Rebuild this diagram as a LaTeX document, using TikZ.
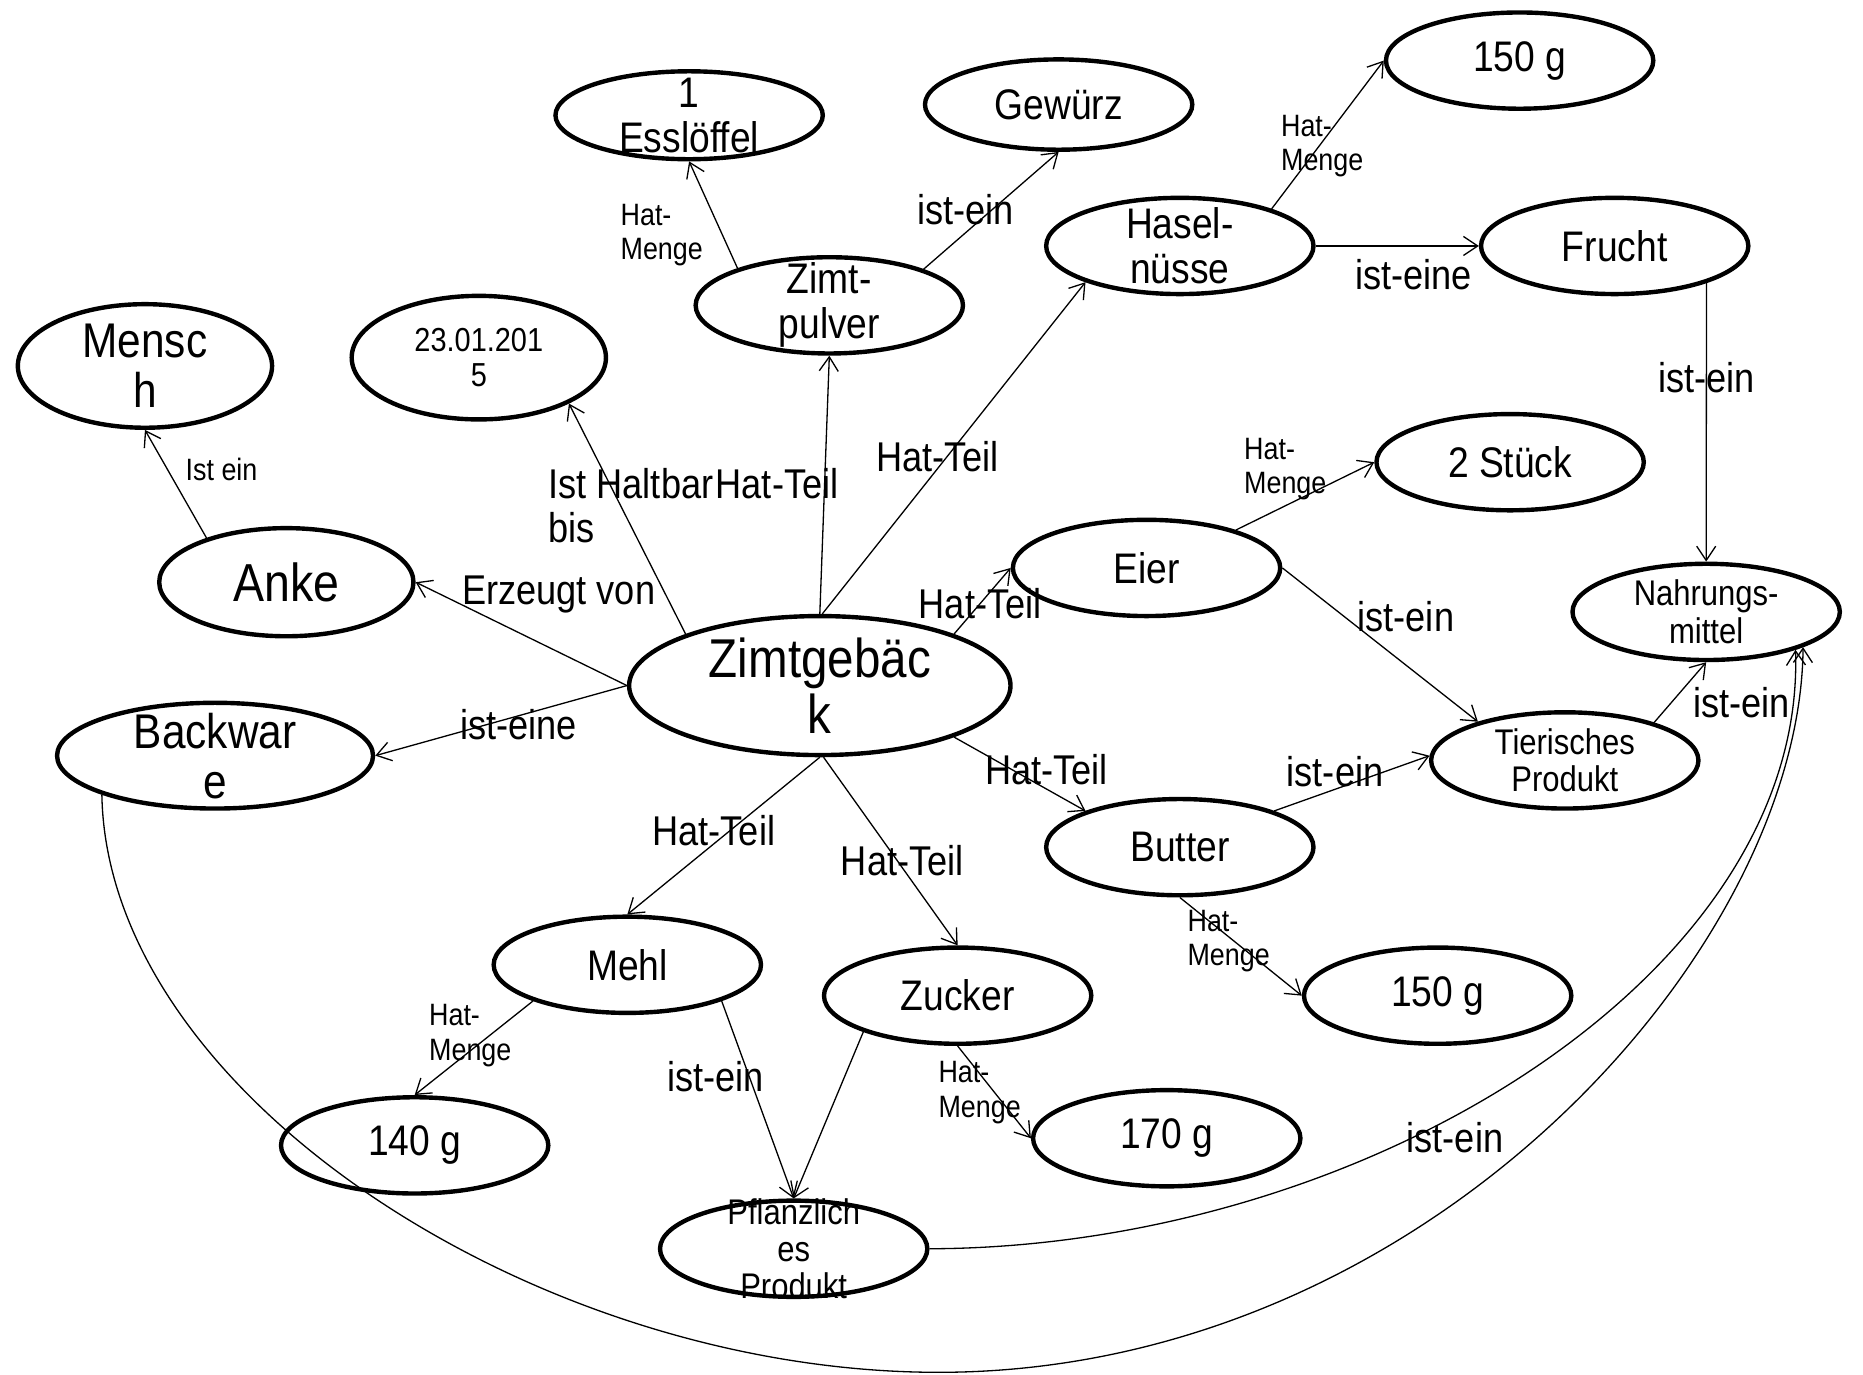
\documentclass[tikz,border=0pt]{standalone}
\usepackage{fontspec}
\setmainfont{Liberation Sans}[FakeStretch=0.87]
\usetikzlibrary{arrows.meta,shapes.geometric}

\begin{document}
\begin{tikzpicture}[x=1pt,y=-1pt,
    begriff/.style={ellipse, draw, line width=3.7pt, align=center, inner xsep=0pt, inner ysep=-20pt,
      minimum width=225pt, minimum height=81pt, font=\fontsize{36}{38}\selectfont},
    begriffklein/.style={begriff, font=\fontsize{30}{31.5}\selectfont},
    lbl/.style={inner sep=0pt, font=\fontsize{35}{37}\selectfont, align=left},
    lblklein/.style={inner sep=0pt, font=\fontsize{26}{29}\selectfont, align=left},
    pfeil/.style={line width=1.1pt, -{Straight Barb[length=12pt,width=16pt]}}]
   \useasboundingbox (0,0) rectangle (1568,1157);

   \node[begriff, minimum height=74pt] (essl) at (580,97) {1\\Esslöffel};
   \node[begriff, minimum height=76pt] (gewuerz) at (891,88) {Gewürz};
   \node[begriff] (g150a) at (1279,51) {150 g};
   \node[begriff] (hasel) at (993,207) {Hasel-\\nüsse};
   \node[begriff] (frucht) at (1359,207) {Frucht};
   \node[begriff] (zimtp) at (698,257) {Zimt-\\pulver};
   \node[begriff, minimum width=214pt, minimum height=104pt, font=\fontsize{41}{42}\selectfont] (mensch) at (122,308) {Mensc\\h};
   \node[begriff, minimum width=214pt, minimum height=104pt, font=\fontsize{28}{30}\selectfont] (datum) at (403,301) {23.01.201\\5};
   \node[begriff] (stueck) at (1271,389) {2 Stück};
   \node[begriff] (eier) at (965,478) {Eier};
   \node[begriffklein] (nahrung) at (1436,515) {Nahrungs-\\mittel};
   \node[begriff, minimum width=214pt, minimum height=91pt, font=\fontsize{45}{47}\selectfont] (anke) at (241,490) {Anke};
   \node[begriff, minimum width=321pt, minimum height=117pt, font=\fontsize{46}{47}\selectfont] (zimtg) at (690,577) {Zimtgebäc\\k};
   \node[begriff, minimum width=266pt, minimum height=89pt, font=\fontsize{41}{42}\selectfont] (backw) at (181,636) {Backwar\\e};
   \node[begriffklein] (tier) at (1317,640) {Tierisches\\Produkt};
   \node[begriff] (butter) at (993,713) {Butter};
   \node[begriff] (mehl) at (528,812) {Mehl};
   \node[begriff] (zucker) at (806,838) {Zucker};
   \node[begriff] (g150b) at (1210,838) {150 g};
   \node[begriff] (g140) at (349,964) {140 g};
   \node[begriff] (g170) at (982,958) {170 g};
   \node[begriffklein] (pflanz) at (668,1051) {Pflanzlich\\es\\Produkt};

   \path[pfeil]
    (zimtp.158) edge node[lblklein, pos=0.51, xshift=-43pt, yshift=-18pt] {Hat-\\Menge} (essl.-90)
    (zimtp.21) edge node[lbl, pos=0.40, xshift=-10pt, yshift=11pt] {ist-ein} (gewuerz.-90)
    (zimtg.90) edge node[lbl, pos=0.50, xshift=-40pt, yshift=1pt] {Hat-Teil} (zimtp.-90)
    (zimtg.159) edge node[lbl, pos=0.54, xshift=7pt, yshift=3pt] {Ist Haltbar\\bis} (datum.-27)
    (zimtg.88) edge node[lbl, pos=0.46, xshift=-5pt, yshift=4pt] {Hat-Teil} (hasel.201)
    (hasel.22.5) edge node[lblklein, pos=0.43, xshift=2pt, yshift=-1pt] {Hat-\\Menge} (g150a.180)
    (hasel.0) edge node[lbl, pos=0.60, yshift=-24pt] {ist-eine} (frucht.180)
    (frucht.-22) edge node[lbl, pos=0.34] {ist-ein} (nahrung.90)
    (anke.151) edge node[lblklein, pos=0.45, xshift=36pt, yshift=17pt] {Ist ein} (mensch.-90)
    (zimtg.180) edge node[lbl, pos=0.43, xshift=19pt, yshift=39pt] {Erzeugt von} (anke.0)
    (zimtg.180) edge node[lbl, pos=0.44, xshift=2pt, yshift=-7pt] {ist-eine} (backw.0)
    (zimtg.21) edge node[lbl, pos=0.46] {Hat-Teil} (eier.180)
    (eier.23) edge node[lblklein, pos=0.46, xshift=-12pt, yshift=25pt] {Hat-\\Menge} (stueck.180)
    (eier.0) edge node[lbl, pos=0.51, xshift=20pt, yshift=25pt] {ist-ein} (tier.156)
    (tier.23) edge node[lbl, pos=0.86, xshift=36pt, yshift=-27pt] {ist-ein} (nahrung.-90)
    (zimtg.-21) edge node[lbl, pos=0.64, xshift=7pt, yshift=12pt] {Hat-Teil} (butter.159)
    (butter.21) edge node[lbl, pos=0.43, xshift=-5pt, yshift=13pt] {ist-ein} (tier.178)
    (butter.-90) edge node[lblklein, pos=0.42, xshift=-2pt, yshift=-2pt] {Hat-\\Menge} (g150b.180)
    (zimtg.-90) edge node[lbl, pos=0.52, xshift=-5pt, yshift=7pt] {Hat-Teil} (mehl.90)
    (zimtg.-87) edge node[lbl, pos=0.56, xshift=3pt, yshift=2pt] {Hat-Teil} (zucker.90)
    (mehl.201) edge node[lblklein, pos=0.47, xshift=-6pt, yshift=8pt] {Hat-\\Menge} (g140.90)
    (mehl.-21) edge node[lbl, pos=0.33, xshift=-25pt, yshift=-9pt] {ist-ein} (pflanz.90)
    (zucker.201) edge (pflanz.90)
    (zucker.-90) edge node[lblklein, pos=0.43, xshift=-8pt, yshift=-6pt] {Hat-\\Menge} (g170.180);

   % die zwei langen Bogen zu Nahrungsmittel
   \draw[pfeil] (pflanz.0) .. controls (1150,1050) and (1520,820) .. (nahrung.-23.5)
     node[lbl, pos=0.43, xshift=-3pt, yshift=-20pt] {ist-ein};
   \draw[pfeil] (backw.199) .. controls (90,920) and (450,1155) .. (790,1155)
     .. controls (1200,1155) and (1515,800) .. (nahrung.-20);
\end{tikzpicture}
\end{document}
